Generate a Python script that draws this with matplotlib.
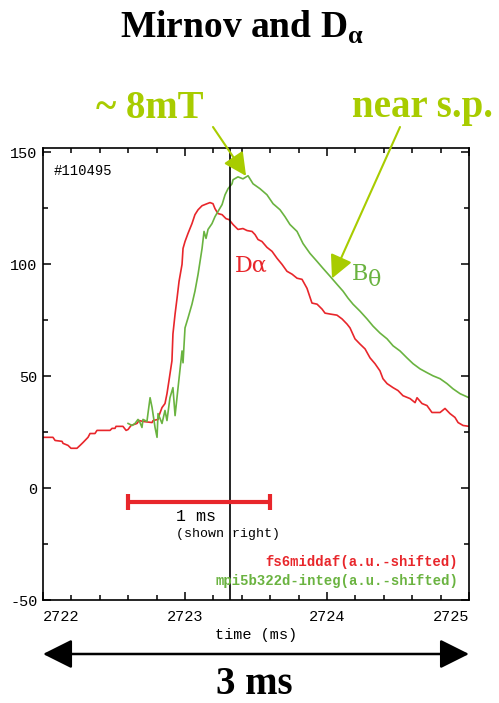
import numpy as np
import matplotlib
matplotlib.use('Agg')  # no display
import matplotlib.pyplot as plt

plt.rcParams['axes.unicode_minus'] = False

# D-alpha signal, fs6middaf (a.u., shifted)
da_t = [2722.000, 2722.070, 2722.085, 2722.134, 2722.141, 2722.176, 2722.197, 2722.239,
        2722.261, 2722.282, 2722.317, 2722.331, 2722.366, 2722.380, 2722.472, 2722.486,
        2722.507, 2722.514, 2722.563, 2722.585, 2722.599, 2722.620, 2722.662, 2722.676,
        2722.704, 2722.768, 2722.775, 2722.810, 2722.817, 2722.838, 2722.859, 2722.873,
        2722.887, 2722.908, 2722.915, 2722.930, 2722.944, 2722.958, 2722.979, 2722.986,
        2723.000, 2723.021, 2723.049, 2723.070, 2723.092, 2723.120, 2723.155, 2723.176,
        2723.197, 2723.211, 2723.232, 2723.261, 2723.289, 2723.310, 2723.338, 2723.373,
        2723.408, 2723.437, 2723.472, 2723.493, 2723.514, 2723.542, 2723.577, 2723.613,
        2723.648, 2723.683, 2723.718, 2723.754, 2723.789, 2723.824, 2723.859, 2723.894,
        2723.930, 2723.965, 2723.986, 2724.021, 2724.070, 2724.106, 2724.141, 2724.162,
        2724.197, 2724.232, 2724.268, 2724.303, 2724.338, 2724.373, 2724.394, 2724.423,
        2724.465, 2724.500, 2724.535, 2724.585, 2724.620, 2724.634, 2724.669, 2724.704,
        2724.739, 2724.796, 2724.831, 2724.866, 2724.901, 2724.923, 2724.958, 2725.000]
da_v = [22.7, 22.7, 21.3, 20.9, 20.0, 19.1, 17.8, 17.8,
        19.1, 20.4, 22.7, 24.4, 24.4, 25.8, 25.8, 26.7,
        26.7, 27.6, 27.6, 25.8, 26.2, 28.0, 28.9, 30.2,
        29.8, 29.3, 30.2, 30.7, 32.4, 36.0, 37.8, 42.2,
        48.0, 56.9, 68.9, 77.8, 84.9, 92.4, 100.0, 107.1,
        110.2, 113.8, 118.2, 122.2, 124.4, 126.2, 127.1, 127.6,
        127.1, 124.9, 122.7, 122.2, 120.4, 120.0, 117.8, 115.6,
        116.0, 115.1, 114.7, 113.3, 111.1, 110.2, 107.6, 105.8,
        102.7, 100.0, 96.9, 95.6, 93.8, 93.3, 89.3, 82.7,
        82.2, 80.0, 78.2, 77.8, 77.3, 75.6, 73.3, 71.6,
        66.7, 64.4, 62.2, 58.2, 55.6, 52.4, 48.9, 46.7,
        44.9, 43.6, 41.3, 40.0, 38.2, 40.4, 37.8, 36.9,
        33.8, 33.8, 35.6, 33.3, 31.6, 29.3, 28.0, 27.6]

# B-theta signal, mpi5b322d-integ (a.u., shifted)
bt_t = [2722.599, 2722.627, 2722.648, 2722.669, 2722.683, 2722.697, 2722.704, 2722.732,
        2722.739, 2722.754, 2722.768, 2722.789, 2722.803, 2722.810, 2722.838, 2722.859,
        2722.873, 2722.894, 2722.915, 2722.930, 2722.951, 2722.979, 2722.986, 2723.000,
        2723.021, 2723.049, 2723.070, 2723.092, 2723.120, 2723.134, 2723.148, 2723.162,
        2723.190, 2723.211, 2723.232, 2723.261, 2723.282, 2723.303, 2723.331, 2723.338,
        2723.373, 2723.408, 2723.444, 2723.479, 2723.528, 2723.577, 2723.620, 2723.669,
        2723.704, 2723.739, 2723.789, 2723.831, 2723.880, 2723.930, 2723.972, 2724.021,
        2724.070, 2724.113, 2724.148, 2724.183, 2724.232, 2724.282, 2724.324, 2724.373,
        2724.423, 2724.465, 2724.514, 2724.563, 2724.606, 2724.655, 2724.704, 2724.746,
        2724.796, 2724.845, 2724.887, 2724.937, 2725.000]
bt_v = [28.9, 28.0, 28.9, 30.7, 29.3, 27.1, 30.7, 29.8,
        33.3, 40.4, 36.0, 27.1, 22.7, 33.3, 28.9, 34.7,
        30.2, 40.4, 44.9, 32.4, 44.9, 61.3, 56.0, 71.6,
        76.0, 82.2, 88.0, 95.6, 107.1, 114.7, 111.6, 115.6,
        118.2, 121.3, 123.6, 126.7, 131.1, 133.8, 136.0, 137.8,
        139.1, 138.2, 139.6, 136.0, 133.8, 131.1, 127.1, 124.4,
        121.3, 117.8, 114.7, 109.3, 104.9, 101.3, 98.2, 94.7,
        91.1, 88.0, 84.9, 82.2, 79.1, 75.6, 72.4, 69.3,
        66.7, 63.6, 61.3, 58.2, 55.6, 53.3, 51.6, 50.2,
        48.9, 46.7, 44.4, 42.2, 40.4]

x_ticks = [2722, 2723, 2724, 2725]
x_tick_labels = ['2722', '2723', '2724', '2725']
y_ticks = [-50, 0, 50, 100, 150]
t_marker = 2723.32  # vertical reference line

red = '#e8262b'
green = '#6ab340'
lime = '#a8cc00'
mono = 'Liberation Mono'
serif = 'Liberation Serif'

fig = plt.figure(figsize=(4.99, 7.03), dpi=100)
ax = fig.add_axes([0.0862, 0.1465, 0.8537, 0.643])

ax.plot(da_t, da_v, color=red, lw=1.2)
ax.plot(bt_t, bt_v, color=green, lw=1.2)
ax.axvline(t_marker, color='black', lw=1.2)

ax.set_xlim(2722, 2725)
ax.set_ylim(-50, 152)
ax.set_xticks(x_ticks)
ax.set_xticklabels(x_tick_labels, fontfamily=mono, fontsize=11)
ax.set_xticks(np.arange(2722, 2725.01, 0.2), minor=True)
ax.set_yticks(y_ticks)
ax.set_yticks(np.arange(-50, 151, 25), minor=True)
for lab in ax.get_yticklabels():
    lab.set_fontfamily(mono)
    lab.set_fontsize(11)
xl = ax.get_xticklabels()
xl[0].set_ha('left')
xl[-1].set_ha('right')

ax.tick_params(which='both', direction='in', top=True, right=True, width=1.1)
ax.tick_params(which='major', length=6)
ax.tick_params(which='minor', length=3.5)
ax.tick_params(axis='x', pad=7)
ax.tick_params(axis='y', pad=4)
for s in ax.spines.values():
    s.set_linewidth(1.2)

ax.set_xlabel('time (ms)', fontfamily=mono, fontsize=11, labelpad=3)

# shot number
ax.text(0.025, 0.965, '#110495', transform=ax.transAxes, fontfamily=mono,
        fontsize=10, va='top', ha='left')

# 1 ms scale bar
ax.errorbar(2723.1, -6, xerr=0.5, color=red, elinewidth=3, capsize=6, capthick=3)
ax.text(2722.94, -12.5, '1 ms', fontfamily=mono, fontsize=12, ha='left', va='center')
ax.text(2722.94, -20.5, '(shown right)', fontfamily=mono, fontsize=9.5, ha='left', va='center')

# legend text
ax.text(0.975, 0.084, 'fs6middaf(a.u.-shifted)', transform=ax.transAxes, color=red,
        fontfamily=mono, fontweight='bold', fontsize=10, ha='right', va='center')
ax.text(0.975, 0.042, 'mpi5b322d-integ(a.u.-shifted)', transform=ax.transAxes, color=green,
        fontfamily=mono, fontweight='bold', fontsize=10, ha='right', va='center')

# curve labels
ax.text(2723.352, 99.5, 'D\u03b1', color=red, fontfamily='DejaVu Serif', fontsize=16,
        ha='left', va='center')
ax.text(2724.176, 95.8, 'B', color=green, fontfamily='DejaVu Serif', fontsize=16,
        ha='left', va='center')
ax.text(2724.289, 92.9, '\u03b8', color=green, fontfamily='DejaVu Serif', fontsize=16,
        ha='left', va='center')

# title and annotations
fig.text(0.485, 1 - 27 / 703, r'Mirnov and D$_{\mathregular{\alpha}}$', fontfamily=serif,
         fontweight='bold', fontsize=27, ha='center', va='center')
head = '-|>,head_length=0.7,head_width=0.35'
ax.annotate('', xy=(2723.43, 139.5), xycoords='data',
            xytext=(213 / 499, 1 - 127 / 703), textcoords='figure fraction',
            arrowprops=dict(arrowstyle=head, color=lime, lw=1.5, mutation_scale=20,
                            shrinkA=0, shrinkB=0))
ax.annotate('', xy=(2724.035, 93.7), xycoords='data',
            xytext=(400 / 499, 1 - 127 / 703), textcoords='figure fraction',
            arrowprops=dict(arrowstyle=head, color=lime, lw=1.5, mutation_scale=20,
                            shrinkA=0, shrinkB=0))
fig.text(150 / 499, 1 - 108 / 703, '~ 8mT', color=lime, fontfamily=serif,
         fontweight='bold', fontsize=28, ha='center', va='center')
fig.text(423 / 499, 1 - 108 / 703, 'near s.p.', color=lime, fontfamily=serif,
         fontweight='bold', fontsize=28, ha='center', va='center')

# 3 ms span arrow under the axis
ax.annotate('', xy=(2722, 1 - 654 / 703), xycoords=('data', 'figure fraction'),
            xytext=(2725, 1 - 654 / 703), textcoords=('data', 'figure fraction'),
            arrowprops=dict(arrowstyle='<|-|>,head_length=0.9,head_width=0.45',
                            color='black', lw=1.8, mutation_scale=20,
                            shrinkA=0, shrinkB=0),
            annotation_clip=False)
fig.text(254 / 499, 1 - 685 / 703, '3 ms', fontfamily=serif, fontweight='bold',
         fontsize=28, ha='center', va='center')

fig.savefig('out.png', dpi=100)
plt.close()
